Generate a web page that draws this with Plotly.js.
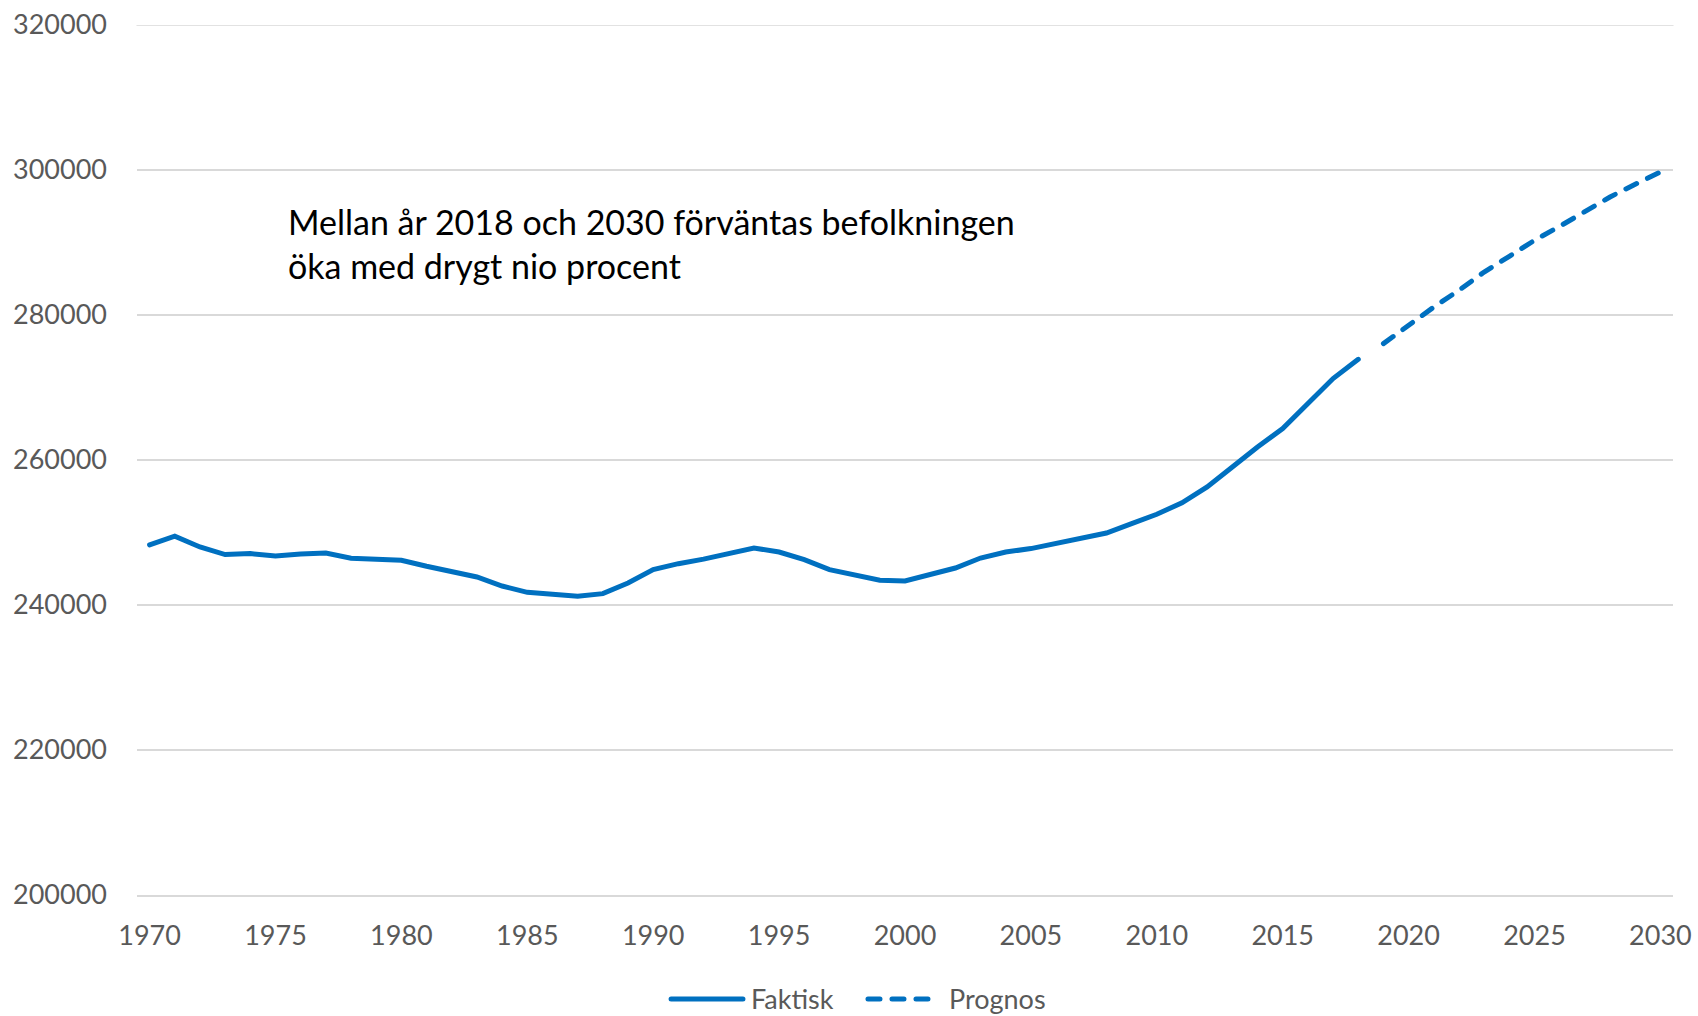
<!DOCTYPE html>
<html>
<head>
<meta charset="utf-8">
<script src="https://cdn.plot.ly/plotly-3.0.1.min.js"></script>
<style>
  html, body { margin: 0; padding: 0; background: #fff; }
  #chart { width: 1698px; height: 1016px; }
  /* rounded ends on the lines, like the original */
  .scatterlayer .js-line, .shapelayer path { stroke-linecap: round; }
</style>
</head>
<body>
<div id="chart"></div>
<script>
// Actual population 1970-2018
const faktiskYears = [
  1970, 1971, 1972, 1973, 1974, 1975, 1976, 1977, 1978, 1979,
  1980, 1981, 1982, 1983, 1984, 1985, 1986, 1987, 1988, 1989,
  1990, 1991, 1992, 1993, 1994, 1995, 1996, 1997, 1998, 1999,
  2000, 2001, 2002, 2003, 2004, 2005, 2006, 2007, 2008, 2009,
  2010, 2011, 2012, 2013, 2014, 2015, 2016, 2017, 2018
];
const faktiskValues = [
  248300, 249500, 248000, 246950, 247090, 246760, 247030, 247170, 246440, 246340,
  246170, 245340, 244650, 243860, 242620, 241750, 241480, 241200, 241570, 243030,
  244880, 245700, 246330, 247090, 247860, 247310, 246260, 244880, 244100, 243410,
  243310, 244230, 245100, 246480, 247310, 247780, 248470, 249160, 249930, 251230,
  252510, 254100, 256280, 259030, 261790, 264330, 267780, 271230, 273890
];

// Forecast 2019-2030
const prognosYears = [2019, 2020, 2021, 2022, 2023, 2024, 2025, 2026, 2027, 2028, 2029, 2030];
const prognosValues = [
  276050, 278580, 281100, 283410, 285930, 288100,
  290300, 292230, 294350, 296280, 298030, 299720
];

// Axis ticks
const xTicks = [1970, 1975, 1980, 1985, 1990, 1995, 2000, 2005, 2010, 2015, 2020, 2025, 2030];
const yTicks = [200000, 220000, 240000, 260000, 280000, 300000, 320000];

const lineColor = "#0070C0";
const textGray = "#595959";
const gridGray = "#D9D9D9";
const fontFamily = "Lato, 'Open Sans', sans-serif";

const traceFaktisk = {
  x: faktiskYears,
  y: faktiskValues,
  mode: "lines",
  name: "Faktisk",
  line: { color: lineColor, width: 5 }
};

const tracePrognos = {
  x: prognosYears,
  y: prognosValues,
  mode: "lines",
  name: "Prognos",
  line: { color: lineColor, width: 5, dash: "12px,12px" }
};

// Legend drawn by hand so the symbols can be as long as in the original
const legendY = -0.1195;
const shapes = [
  // plotly skips the gridline at the top edge of the range, so add it back
  { type: "line", xref: "paper", yref: "y", x0: 0, x1: 1, y0: yTicks[yTicks.length - 1], y1: yTicks[yTicks.length - 1],
    line: { color: gridGray, width: 1.5 }, layer: "below" },
  { type: "line", xref: "paper", yref: "paper", x0: 0.3477, x1: 0.3945, y0: legendY, y1: legendY,
    line: { color: lineColor, width: 5 } },
  { type: "line", xref: "paper", yref: "paper", x0: 0.4759, x1: 0.5195, y0: legendY, y1: legendY,
    line: { color: lineColor, width: 5, dash: "12px,12px" } }
];

const annotations = [
  {
    xref: "paper", yref: "paper", x: 0.097, y: 0.7483,
    xanchor: "left", yanchor: "middle", align: "left", showarrow: false,
    text: "Mellan år 2018 och 2030 förväntas befolkningen<br>öka med drygt nio procent",
    font: { family: fontFamily, size: 34, color: "#000000" }
  },
  {
    xref: "paper", yref: "paper", x: 0.3984, y: legendY,
    xanchor: "left", yanchor: "middle", showarrow: false,
    text: "Faktisk", font: { family: fontFamily, size: 27, color: textGray }
  },
  {
    xref: "paper", yref: "paper", x: 0.5273, y: legendY,
    xanchor: "left", yanchor: "middle", showarrow: false,
    text: "Prognos", font: { family: fontFamily, size: 27, color: textGray }
  }
];

const layout = {
  width: 1698,
  height: 1016,
  margin: { l: 137, r: 25, t: 25, b: 121 },
  paper_bgcolor: "#ffffff",
  plot_bgcolor: "#ffffff",
  showlegend: false,
  font: { family: fontFamily, size: 27, color: textGray },
  xaxis: {
    range: [1969.5, 2030.5],
    tickvals: xTicks,
    ticktext: xTicks.map(String),
    showgrid: false,
    zeroline: false,
    showline: true,
    linecolor: gridGray,
    linewidth: 1.5,
    ticks: "",
    ticklabelstandoff: 16,
    tickfont: { family: fontFamily, size: 27, color: textGray }
  },
  yaxis: {
    range: [200000, 320000],
    tickvals: yTicks,
    tickformat: "d",
    showgrid: true,
    gridcolor: gridGray,
    gridwidth: 1.5,
    zeroline: false,
    showline: false,
    ticks: "",
    ticklabelstandoff: 29,
    tickfont: { family: fontFamily, size: 27, color: textGray }
  },
  shapes: shapes,
  annotations: annotations
};

Plotly.newPlot("chart", [traceFaktisk, tracePrognos], layout, { staticPlot: true });
</script>
</body>
</html>
